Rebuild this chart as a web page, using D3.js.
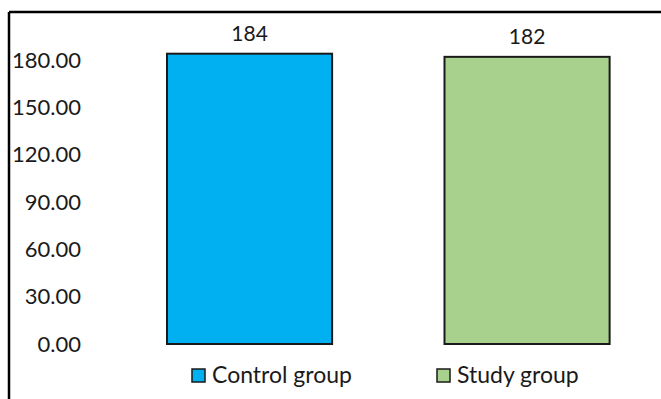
<!DOCTYPE html>
<html>
<head>
<meta charset="utf-8">
<script src="https://cdn.jsdelivr.net/npm/d3@7"></script>
<style>
  html, body { margin: 0; padding: 0; background: #fff; }
  svg { display: block; }
  text { font-family: Lato, "Open Sans", sans-serif; fill: #1a1a1a; }
</style>
</head>
<body>
<svg id="chart" width="661" height="399"></svg>
<script>
// Group labels and their measured values
const categories = ["Control group", "Study group"];
const values = [184, 182];
const colors = ["#00b0f0", "#a9d18e"];
const yTicks = [0, 30, 60, 90, 120, 150, 180];

const svg = d3.select("#chart");

// Outer frame (top and left edges show within the view)
svg.append("line").attr("x1", 9).attr("x2", 661).attr("y1", 12).attr("y2", 12)
  .attr("stroke", "#000").attr("stroke-width", 2.5);
svg.append("line").attr("x1", 9).attr("x2", 9).attr("y1", 12).attr("y2", 399)
  .attr("stroke", "#000").attr("stroke-width", 2.5);

const x = d3.scaleBand()
  .domain(categories)
  .range([110.8, 665.8])
  .paddingInner(0.405)
  .paddingOuter(0.2025);

const y = d3.scaleLinear().domain([0, 180]).range([344, 60]);

// Y axis: labels only, no axis line or tick marks
const yAxis = d3.axisLeft(y)
  .tickValues(yTicks)
  .tickFormat(d3.format(".2f"))
  .tickSize(0)
  .tickPadding(0);

const yg = svg.append("g").attr("transform", "translate(81,0)").call(yAxis);
yg.select(".domain").remove();
yg.selectAll("text")
  .style("font-family", "Lato, 'Open Sans', sans-serif")
  .style("font-size", "22px")
  .attr("fill", "#1a1a1a");

// Bars
svg.selectAll("rect.bar")
  .data(values)
  .join("rect")
  .attr("class", "bar")
  .attr("x", (d, i) => x(categories[i]))
  .attr("y", d => y(d))
  .attr("width", x.bandwidth())
  .attr("height", d => y(0) - y(d))
  .attr("fill", (d, i) => colors[i])
  .attr("stroke", "#1a1a1a")
  .attr("stroke-width", 2);

// Value labels above bars
svg.selectAll("text.val")
  .data(values)
  .join("text")
  .attr("class", "val")
  .attr("x", (d, i) => x(categories[i]) + x.bandwidth() / 2)
  .attr("y", d => y(d) - 13)
  .attr("text-anchor", "middle")
  .style("font-size", "21px")
  .text(d => d);

// Legend
const legendX = [192, 437];
const leg = svg.selectAll("g.legend")
  .data(categories)
  .join("g")
  .attr("class", "legend")
  .attr("transform", (d, i) => `translate(${legendX[i]},369)`);
leg.append("rect")
  .attr("width", 13).attr("height", 13)
  .attr("fill", (d, i) => colors[i])
  .attr("stroke", "#1a1a1a").attr("stroke-width", 1.5);
leg.append("text")
  .attr("x", 20).attr("y", 14)
  .style("font-size", "23px")
  .text(d => d);
</script>
</body>
</html>
